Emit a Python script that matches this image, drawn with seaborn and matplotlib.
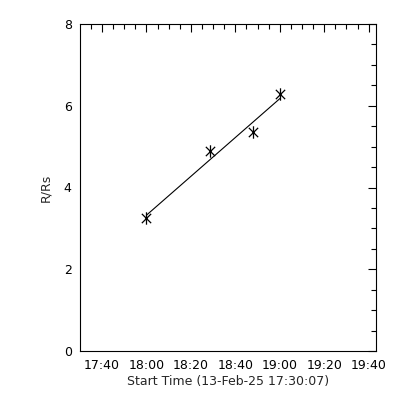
import numpy as np
import pandas as pd
import seaborn as sns
import matplotlib.pyplot as plt
from matplotlib.path import Path
from matplotlib.ticker import MultipleLocator, FixedLocator

# height-time measurements
start_time = '17:30:07'
obs_times = ['18:00:00', '18:28:30', '18:48:00', '19:00:10']
heights = [3.26, 4.89, 5.35, 6.28]

tick_labels = ['17:40', '18:00', '18:20', '18:40', '19:00', '19:20', '19:40']


def to_minutes(t):
    h, m, s = [int(v) for v in t.split(':')]
    return h * 60 + m + s / 60.0


t0 = to_minutes(start_time)
df = pd.DataFrame({'t': [to_minutes(t) - t0 for t in obs_times], 'r': heights})

sns.set_style('white')
plt.rcParams['font.family'] = ['DejaVu Sans']

# IDL style asterisk: vertical bar plus an X
star = Path([(0, -1), (0, 1), (-0.75, -0.75), (0.75, 0.75), (-0.75, 0.75), (0.75, -0.75)],
            [Path.MOVETO, Path.LINETO, Path.MOVETO, Path.LINETO, Path.MOVETO, Path.LINETO])

fig = plt.figure(figsize=(4, 4), dpi=100)
ax = fig.add_axes([0.2, 0.1225, 0.74, 0.8175])

sns.regplot(data=df, x='t', y='r', ax=ax, ci=None, truncate=True, scatter=False,
            line_kws={'color': 'black', 'lw': 0.8})
sns.scatterplot(data=df, x='t', y='r', ax=ax, marker=star, s=80, color='black',
                linewidth=0.9, edgecolor='black')

ax.set_xlim(0, 133.2)
ax.set_ylim(0, 8)
major_x = [to_minutes(l + ':00') - t0 for l in tick_labels]
ax.xaxis.set_major_locator(FixedLocator(major_x))
ax.set_xticklabels(tick_labels)
minor_x = np.arange(major_x[0] - 5, 133.2, 5)
ax.xaxis.set_minor_locator(FixedLocator(minor_x))
ax.yaxis.set_major_locator(MultipleLocator(2))
ax.yaxis.set_minor_locator(MultipleLocator(0.5))

ax.tick_params(which='both', direction='in', top=True, right=True, color='black',
               labelsize=9, width=0.8, pad=6, labelcolor='black')
ax.tick_params(which='major', length=6)
ax.tick_params(which='minor', length=3.5)

for sp in ax.spines.values():
    sp.set_color('black')
    sp.set_linewidth(0.8)

ax.set_xlabel('Start Time (13-Feb-25 17:30:07)', fontsize=9, labelpad=2)
ax.set_ylabel('R/Rs', fontsize=9, labelpad=8)

fig.savefig('out.png', dpi=100, facecolor='white')
